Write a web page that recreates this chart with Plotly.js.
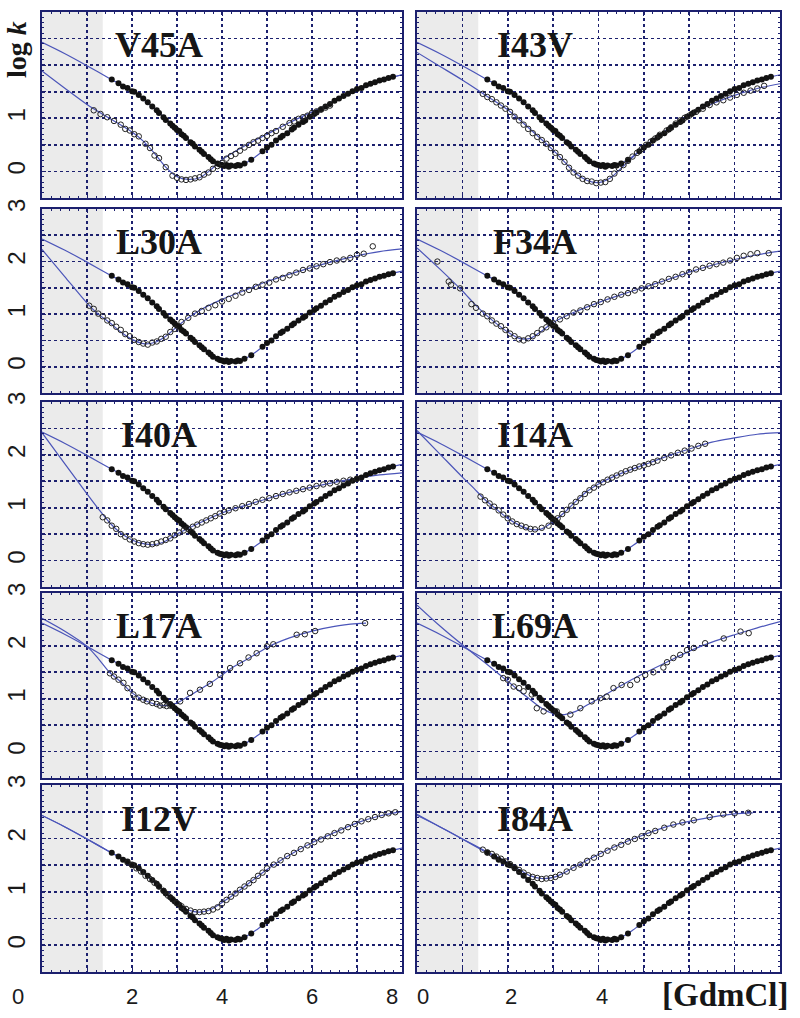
<!DOCTYPE html>
<html>
<head>
<meta charset="utf-8">
<script src="https://cdn.plot.ly/plotly-3.0.1.min.js"></script>
<style>
  html, body { margin: 0; padding: 0; background: #fff; }
  #chart { width: 800px; height: 1018px; }
</style>
</head>
<body>
<div id="chart"></div>
<script>
// wild type: filled points + fit, same in every panel
const wtX = [1.55, 1.7, 1.8, 1.9, 2.0, 2.05, 2.15, 2.25, 2.35, 2.45, 2.55, 2.6, 2.7, 2.75, 2.85, 2.9, 2.95, 3.0, 3.05, 3.1, 3.15, 3.2, 3.3, 3.35, 3.4, 3.5, 3.55, 3.6, 3.7, 3.75, 3.8, 3.9, 3.95, 4.0, 4.05, 4.1, 4.15, 4.2, 4.3, 4.35, 4.4, 4.5, 4.65, 4.9, 5.0, 5.1, 5.2, 5.3, 5.35, 5.45, 5.55, 5.6, 5.7, 5.8, 5.85, 5.95, 6.05, 6.1, 6.2, 6.3, 6.4, 6.5, 6.6, 6.7, 6.8, 6.9, 7.0, 7.1, 7.2, 7.3, 7.4, 7.5, 7.6, 7.7, 7.8];
const wtY = [1.73, 1.66, 1.60, 1.57, 1.51, 1.50, 1.44, 1.37, 1.30, 1.22, 1.15, 1.10, 1.02, 0.97, 0.90, 0.86, 0.82, 0.78, 0.76, 0.70, 0.67, 0.63, 0.55, 0.52, 0.47, 0.41, 0.37, 0.33, 0.27, 0.23, 0.19, 0.15, 0.13, 0.12, 0.10, 0.12, 0.09, 0.11, 0.10, 0.12, 0.11, 0.15, 0.22, 0.38, 0.45, 0.50, 0.58, 0.64, 0.67, 0.72, 0.79, 0.82, 0.88, 0.93, 0.96, 1.03, 1.08, 1.11, 1.16, 1.22, 1.27, 1.33, 1.37, 1.42, 1.46, 1.51, 1.55, 1.57, 1.62, 1.65, 1.68, 1.71, 1.73, 1.76, 1.78];
const wtFitX = [0, 0.5, 1, 1.5, 2, 2.5, 3, 3.25, 3.5, 3.75, 4, 4.25, 4.5, 4.75, 5, 5.5, 6, 6.5, 7, 7.5, 8];
const wtFitY = [2.43, 2.22, 1.99, 1.75, 1.52, 1.18, 0.80, 0.60, 0.41, 0.24, 0.12, 0.10, 0.15, 0.28, 0.44, 0.77, 1.07, 1.34, 1.55, 1.71, 1.82];

// mutants: open circles + fit
const v45aX = [1.15, 1.3, 1.45, 1.6, 1.75, 1.85, 1.95, 2.05, 2.15, 2.3, 2.4, 2.5, 2.6, 2.75, 2.9, 3.0, 3.1, 3.2, 3.3, 3.4, 3.5, 3.6, 3.7, 3.8, 3.9, 4.0, 4.1, 4.2, 4.3, 4.4, 4.5, 4.6, 4.7, 4.8, 4.9, 5.0, 5.1, 5.2, 5.35, 5.5, 5.6, 5.7, 5.8, 5.9, 6.0, 6.1, 6.2, 6.3, 6.4];
const v45aY = [1.15, 1.08, 1.02, 0.95, 0.88, 0.80, 0.77, 0.70, 0.66, 0.52, 0.44, 0.30, 0.25, 0.08, -0.08, -0.12, -0.15, -0.16, -0.15, -0.13, -0.11, -0.06, -0.02, 0.05, 0.10, 0.16, 0.24, 0.29, 0.33, 0.39, 0.45, 0.50, 0.55, 0.58, 0.63, 0.67, 0.72, 0.76, 0.84, 0.91, 0.94, 0.99, 1.02, 1.05, 1.10, 1.13, 1.17, 1.20, 1.24];
const v45aFitX = [0, 0.5, 1, 1.5, 2, 2.25, 2.5, 2.75, 3, 3.25, 3.5, 3.75, 4, 4.5, 5, 5.5, 6, 6.5, 7, 7.5, 8];
const v45aFitY = [1.89, 1.57, 1.26, 1.00, 0.74, 0.57, 0.34, 0.08, -0.10, -0.15, -0.12, 0.03, 0.22, 0.48, 0.70, 0.92, 1.12, 1.32, 1.52, 1.69, 1.82];

const i43vX = [1.45, 1.55, 1.65, 1.75, 1.85, 1.95, 2.05, 2.15, 2.25, 2.35, 2.45, 2.55, 2.65, 2.75, 2.85, 2.95, 3.05, 3.15, 3.25, 3.35, 3.45, 3.55, 3.65, 3.75, 3.85, 3.95, 4.05, 4.15, 4.25, 4.35, 4.45, 4.55, 4.65, 4.75, 4.85, 4.95, 5.05, 5.15, 5.25, 5.35, 5.5, 5.6, 5.7, 5.8, 5.9, 6.0, 6.15, 6.3, 6.45, 6.6, 6.75, 6.9, 7.05, 7.2, 7.35, 7.5, 7.65];
const i43vY = [1.46, 1.40, 1.36, 1.30, 1.24, 1.18, 1.12, 1.03, 0.96, 0.88, 0.80, 0.72, 0.65, 0.59, 0.52, 0.44, 0.35, 0.27, 0.18, 0.07, -0.02, -0.08, -0.14, -0.18, -0.19, -0.22, -0.21, -0.20, -0.14, -0.04, 0.06, 0.12, 0.20, 0.28, 0.35, 0.42, 0.50, 0.56, 0.62, 0.69, 0.77, 0.83, 0.90, 0.96, 1.01, 1.05, 1.12, 1.18, 1.25, 1.30, 1.34, 1.39, 1.44, 1.48, 1.52, 1.56, 1.61];
const i43vFitX = [0, 0.5, 1, 1.5, 2, 2.5, 3, 3.25, 3.5, 3.75, 4, 4.25, 4.5, 5, 5.5, 6, 6.5, 7, 7.5, 8];
const i43vFitY = [2.24, 1.98, 1.72, 1.44, 1.16, 0.79, 0.40, 0.18, -0.04, -0.17, -0.21, -0.13, 0.06, 0.46, 0.78, 1.06, 1.27, 1.43, 1.56, 1.65];

const l30aX = [1.05, 1.15, 1.25, 1.35, 1.45, 1.55, 1.65, 1.75, 1.85, 1.95, 2.05, 2.15, 2.25, 2.35, 2.45, 2.55, 2.65, 2.75, 2.85, 2.95, 3.1, 3.25, 3.4, 3.55, 3.7, 3.85, 4.0, 4.15, 4.3, 4.45, 4.6, 4.75, 4.9, 5.05, 5.2, 5.35, 5.5, 5.65, 5.8, 5.95, 6.1, 6.25, 6.4, 6.55, 6.7, 6.85, 7.0, 7.15, 7.35];
const l30aY = [1.16, 1.10, 1.01, 0.96, 0.88, 0.83, 0.76, 0.70, 0.62, 0.58, 0.51, 0.47, 0.44, 0.42, 0.46, 0.48, 0.53, 0.57, 0.66, 0.72, 0.85, 0.93, 1.01, 1.06, 1.12, 1.17, 1.24, 1.29, 1.35, 1.41, 1.46, 1.52, 1.56, 1.60, 1.66, 1.69, 1.74, 1.79, 1.84, 1.87, 1.91, 1.95, 1.99, 2.02, 2.04, 2.07, 2.13, 2.15, 2.29];
const l30aFitX = [0, 0.5, 1, 1.25, 1.5, 1.75, 2, 2.25, 2.5, 2.75, 3, 3.25, 3.5, 4, 4.5, 5, 5.5, 6, 6.5, 7, 7.5, 8];
const l30aFitY = [2.23, 1.72, 1.21, 1.00, 0.84, 0.66, 0.52, 0.44, 0.46, 0.58, 0.76, 0.93, 1.07, 1.28, 1.45, 1.62, 1.76, 1.89, 2.01, 2.11, 2.19, 2.24];

const f34aX = [0.45, 0.7, 0.75, 0.95, 1.2, 1.3, 1.45, 1.55, 1.65, 1.75, 1.85, 1.95, 2.05, 2.15, 2.25, 2.35, 2.45, 2.55, 2.65, 2.75, 2.85, 3.0, 3.15, 3.3, 3.45, 3.6, 3.75, 3.9, 4.05, 4.2, 4.35, 4.5, 4.65, 4.8, 4.95, 5.1, 5.25, 5.4, 5.55, 5.7, 5.85, 6.0, 6.15, 6.3, 6.45, 6.6, 6.75, 6.9, 7.05, 7.2, 7.35, 7.5, 7.75];
const f34aY = [2.00, 1.62, 1.56, 1.49, 1.19, 1.12, 1.01, 0.96, 0.88, 0.82, 0.77, 0.70, 0.63, 0.58, 0.52, 0.50, 0.54, 0.58, 0.64, 0.71, 0.75, 0.83, 0.90, 0.96, 1.03, 1.07, 1.13, 1.19, 1.23, 1.28, 1.33, 1.37, 1.40, 1.45, 1.49, 1.53, 1.57, 1.62, 1.67, 1.71, 1.76, 1.80, 1.85, 1.88, 1.92, 1.95, 1.98, 2.02, 2.07, 2.11, 2.14, 2.16, 2.16];
const f34aFitX = [0, 0.5, 1, 1.25, 1.5, 1.75, 2, 2.25, 2.5, 2.75, 3, 3.5, 4, 4.5, 5, 5.5, 6, 6.5, 7, 7.5, 8];
const f34aFitY = [2.26, 1.86, 1.44, 1.21, 1.00, 0.82, 0.66, 0.54, 0.54, 0.68, 0.84, 1.05, 1.22, 1.37, 1.51, 1.65, 1.80, 1.93, 2.04, 2.13, 2.20];

const i40aX = [1.35, 1.45, 1.55, 1.65, 1.75, 1.85, 1.95, 2.05, 2.15, 2.25, 2.35, 2.45, 2.55, 2.65, 2.75, 2.85, 2.95, 3.05, 3.15, 3.25, 3.35, 3.45, 3.55, 3.65, 3.75, 3.85, 3.95, 4.05, 4.15, 4.3, 4.45, 4.6, 4.75, 4.9, 5.05, 5.2, 5.35, 5.5, 5.65, 5.8, 5.95, 6.1, 6.25, 6.4, 6.55, 6.7, 6.85, 7.0];
const i40aY = [0.82, 0.76, 0.66, 0.60, 0.50, 0.45, 0.40, 0.36, 0.33, 0.31, 0.30, 0.31, 0.33, 0.36, 0.39, 0.42, 0.48, 0.53, 0.57, 0.60, 0.64, 0.68, 0.72, 0.76, 0.80, 0.84, 0.89, 0.92, 0.95, 0.99, 1.03, 1.07, 1.11, 1.15, 1.18, 1.22, 1.26, 1.29, 1.32, 1.35, 1.38, 1.41, 1.44, 1.46, 1.49, 1.51, 1.53, 1.55];
const i40aFitX = [0, 0.5, 1, 1.25, 1.5, 1.75, 2, 2.25, 2.5, 2.75, 3, 3.5, 4, 4.5, 5, 5.5, 6, 6.5, 7, 7.5, 8];
const i40aFitY = [2.42, 1.84, 1.26, 0.98, 0.72, 0.52, 0.39, 0.32, 0.30, 0.37, 0.50, 0.71, 0.90, 1.04, 1.17, 1.29, 1.39, 1.48, 1.56, 1.62, 1.66];

const i14aX = [1.4, 1.5, 1.6, 1.7, 1.8, 1.9, 2.0, 2.1, 2.2, 2.3, 2.4, 2.5, 2.6, 2.75, 2.9, 3.0, 3.1, 3.2, 3.3, 3.4, 3.5, 3.6, 3.7, 3.8, 3.9, 4.0, 4.1, 4.2, 4.3, 4.4, 4.5, 4.6, 4.7, 4.8, 4.9, 5.0, 5.1, 5.2, 5.3, 5.45, 5.6, 5.75, 5.9, 6.05, 6.2, 6.35];
const i14aY = [1.21, 1.14, 1.08, 1.02, 0.95, 0.87, 0.80, 0.74, 0.69, 0.66, 0.63, 0.60, 0.59, 0.62, 0.66, 0.74, 0.80, 0.88, 0.96, 1.04, 1.11, 1.18, 1.26, 1.33, 1.38, 1.44, 1.48, 1.53, 1.57, 1.61, 1.65, 1.69, 1.72, 1.75, 1.78, 1.80, 1.83, 1.86, 1.89, 1.94, 1.99, 2.04, 2.08, 2.12, 2.17, 2.21];
const i14aFitX = [0, 0.5, 1, 1.25, 1.5, 1.75, 2, 2.25, 2.5, 2.75, 3, 3.25, 3.5, 3.75, 4, 4.5, 5, 5.5, 6, 6.5, 7, 7.5, 8];
const i14aFitY = [2.46, 2.02, 1.58, 1.37, 1.15, 0.97, 0.80, 0.67, 0.59, 0.60, 0.74, 0.91, 1.12, 1.31, 1.45, 1.65, 1.81, 1.97, 2.11, 2.24, 2.32, 2.39, 2.42];

const l17aX = [1.51, 1.6, 1.7, 1.81, 1.9, 2.03, 2.15, 2.25, 2.33, 2.45, 2.55, 2.62, 2.7, 2.77, 2.85, 3.07, 3.29, 3.51, 3.73, 3.96, 4.18, 4.4, 4.59, 4.77, 5.0, 5.14, 5.66, 5.84, 6.07, 7.18];
const l17aY = [1.48, 1.42, 1.36, 1.30, 1.20, 1.08, 1.02, 0.98, 0.95, 0.92, 0.90, 0.87, 0.88, 0.86, 0.87, 0.95, 1.11, 1.17, 1.28, 1.45, 1.58, 1.67, 1.78, 1.86, 1.99, 2.03, 2.21, 2.22, 2.28, 2.43];
const l17aFitX = [0, 0.5, 1, 1.25, 1.5, 1.75, 2, 2.25, 2.5, 2.75, 3, 3.25, 3.5, 3.75, 4, 4.25, 4.5, 4.75, 5, 5.5, 6, 6.5, 7, 7.2];
const l17aFitY = [2.52, 2.28, 1.99, 1.76, 1.50, 1.32, 1.11, 0.98, 0.90, 0.87, 0.92, 1.04, 1.17, 1.30, 1.45, 1.60, 1.72, 1.84, 1.97, 2.15, 2.28, 2.37, 2.42, 2.43];

const l69aX = [1.90, 2.0, 2.13, 2.25, 2.35, 2.53, 2.64, 2.79, 3.08, 3.38, 3.60, 3.85, 4.04, 4.18, 4.33, 4.51, 4.70, 4.85, 5.03, 5.21, 5.43, 5.51, 5.65, 5.80, 5.95, 6.10, 6.35, 6.76, 7.13, 7.31];
const l69aY = [1.39, 1.36, 1.23, 1.20, 1.14, 1.08, 0.82, 0.76, 0.76, 0.70, 0.82, 0.95, 1.01, 1.04, 1.20, 1.26, 1.26, 1.36, 1.45, 1.50, 1.59, 1.69, 1.77, 1.83, 1.92, 1.96, 2.05, 2.14, 2.27, 2.24];
const l69aFitX = [0, 0.5, 1, 1.5, 2, 2.25, 2.5, 2.75, 3, 3.25, 3.5, 3.75, 4, 4.5, 5, 5.5, 6, 6.5, 7, 7.5, 8];
const l69aFitY = [2.77, 2.38, 2.02, 1.68, 1.33, 1.15, 0.98, 0.82, 0.72, 0.70, 0.76, 0.88, 1.00, 1.25, 1.48, 1.69, 1.90, 2.07, 2.21, 2.34, 2.46];

const i12vX = [1.9, 2.0, 2.1, 2.2, 2.3, 2.4, 2.5, 2.6, 2.7, 2.8, 2.9, 3.0, 3.1, 3.2, 3.3, 3.4, 3.5, 3.6, 3.7, 3.8, 3.9, 4.0, 4.1, 4.2, 4.3, 4.4, 4.5, 4.6, 4.7, 4.8, 4.9, 5.0, 5.15, 5.3, 5.45, 5.6, 5.75, 5.9, 6.05, 6.2, 6.35, 6.5, 6.65, 6.8, 6.95, 7.1, 7.25, 7.4, 7.55, 7.7, 7.85];
const i12vY = [1.55, 1.50, 1.44, 1.38, 1.30, 1.24, 1.17, 1.10, 1.02, 0.93, 0.86, 0.79, 0.73, 0.68, 0.65, 0.62, 0.62, 0.63, 0.64, 0.67, 0.71, 0.78, 0.85, 0.91, 0.97, 1.04, 1.10, 1.16, 1.22, 1.30, 1.36, 1.44, 1.51, 1.59, 1.67, 1.73, 1.80, 1.87, 1.93, 1.98, 2.04, 2.10, 2.15, 2.21, 2.27, 2.32, 2.36, 2.40, 2.44, 2.47, 2.49];
const i12vFitX = [0, 0.5, 1, 1.5, 2, 2.5, 2.75, 3, 3.25, 3.5, 3.75, 4, 4.25, 4.5, 5, 5.5, 6, 6.5, 7, 7.5, 8];
const i12vFitY = [2.43, 2.22, 1.99, 1.75, 1.52, 1.18, 0.98, 0.78, 0.66, 0.62, 0.67, 0.80, 0.94, 1.10, 1.42, 1.69, 1.92, 2.11, 2.29, 2.42, 2.50];

const i84aX = [1.45, 1.55, 1.65, 1.75, 1.85, 1.95, 2.05, 2.15, 2.25, 2.35, 2.45, 2.55, 2.65, 2.75, 2.85, 2.95, 3.05, 3.15, 3.3, 3.45, 3.6, 3.75, 3.9, 4.05, 4.2, 4.35, 4.5, 4.65, 4.8, 4.95, 5.1, 5.25, 5.45, 5.65, 5.85, 6.1, 6.45, 6.75, 7.0, 7.3];
const i84aY = [1.79, 1.74, 1.71, 1.66, 1.62, 1.57, 1.52, 1.46, 1.41, 1.36, 1.31, 1.28, 1.26, 1.24, 1.25, 1.26, 1.28, 1.32, 1.38, 1.45, 1.51, 1.58, 1.64, 1.71, 1.77, 1.83, 1.88, 1.94, 1.99, 2.04, 2.10, 2.14, 2.20, 2.26, 2.30, 2.34, 2.40, 2.45, 2.47, 2.48];
const i84aFitX = [0, 0.5, 1, 1.5, 2, 2.25, 2.5, 2.75, 3, 3.25, 3.5, 4, 4.5, 5, 5.5, 6, 6.5, 7, 7.4];
const i84aFitY = [2.45, 2.22, 1.99, 1.77, 1.55, 1.42, 1.30, 1.25, 1.27, 1.36, 1.48, 1.70, 1.90, 2.07, 2.22, 2.32, 2.40, 2.46, 2.48];

const mutantNames = ['V45A', 'I43V', 'L30A', 'F34A', 'I40A', 'I14A', 'L17A', 'L69A', 'I12V', 'I84A'];
const xTickLabels = ['0', '2', '4', '6', '8'];
const yTickVals = [0, 0.5, 1, 1.5, 2, 2.5, 3];
const yTickText = ['0', '', '1', '', '2', '', '3'];

const mutants = [
    [v45aX, v45aY, v45aFitX, v45aFitY],
    [i43vX, i43vY, i43vFitX, i43vFitY],
    [l30aX, l30aY, l30aFitX, l30aFitY],
    [f34aX, f34aY, f34aFitX, f34aFitY],
    [i40aX, i40aY, i40aFitX, i40aFitY],
    [i14aX, i14aY, i14aFitX, i14aFitY],
    [l17aX, l17aY, l17aFitX, l17aFitY],
    [l69aX, l69aY, l69aFitX, l69aFitY],
    [i12vX, i12vY, i12vFitX, i12vFitY],
    [i84aX, i84aY, i84aFitX, i84aFitY]
];

const W = 800, H = 1018;
const NAVY = '#1c206e';
const FIT = '#4b55b9';
const rowTop = [12, 209, 402, 593, 785];
const rowBot = [198, 393, 587, 778, 972];
const colL = [42, 417];
const colR = [402, 780];

const traces = [];
const layout = {
    width: W, height: H,
    margin: { l: 0, r: 0, t: 0, b: 0 },
    paper_bgcolor: '#fff',
    plot_bgcolor: '#fff',
    showlegend: false,
    shapes: [],
    annotations: []
};

mutants.forEach((m, i) => {
    const n = i + 1;
    const row = Math.floor(i / 2), col = i % 2;
    const xa = 'x' + (n === 1 ? '' : n), ya = 'y' + (n === 1 ? '' : n);
    const xkey = 'xaxis' + (n === 1 ? '' : n), ykey = 'yaxis' + (n === 1 ? '' : n);

    traces.push({ x: wtFitX, y: wtFitY, xaxis: xa, yaxis: ya, mode: 'lines', line: { color: FIT, width: 1.2, shape: 'spline', smoothing: 0.8 }, hoverinfo: 'skip' });
    traces.push({ x: m[2], y: m[3], xaxis: xa, yaxis: ya, mode: 'lines', line: { color: FIT, width: 1.2, shape: 'spline', smoothing: 0.8 }, hoverinfo: 'skip' });
    traces.push({ x: wtX, y: wtY, xaxis: xa, yaxis: ya, mode: 'markers', marker: { symbol: 'circle', size: 6, color: '#121212' } });
    traces.push({ x: m[0], y: m[1], xaxis: xa, yaxis: ya, mode: 'markers', marker: { symbol: 'circle-open', size: 5.5, color: '#222', line: { width: 1 } } });

    const common = {
        showline: true, mirror: 'allticks', linecolor: NAVY, linewidth: 1.6,
        showgrid: true, gridcolor: NAVY, gridwidth: 1.6, griddash: '3px,3px',
        zeroline: false, ticks: 'inside', ticklen: 4, tickcolor: NAVY, tickwidth: 1,
        fixedrange: true
    };
    layout[xkey] = Object.assign({}, common, {
        domain: [colL[col] / W, colR[col] / W],
        anchor: ya,
        range: [0, 8],
        tickvals: [0, 1, 2, 3, 4, 5, 6, 7, 8],
        showticklabels: false,
        minor: { ticks: 'inside', ticklen: 2, dtick: 0.2, tickcolor: NAVY, showgrid: false }
    });
    layout[ykey] = Object.assign({}, common, {
        domain: [1 - rowBot[row] / H, 1 - rowTop[row] / H],
        anchor: xa,
        range: [-0.5, 3],
        tickvals: yTickVals,
        ticktext: n === 1 ? ['0', '', '1', '', '', '', ''] : yTickText,
        showticklabels: col === 0,
        tickangle: -90,
        ticklabelstandoff: 6,
        tickfont: { family: 'Liberation Sans, Arial, sans-serif', size: 24, color: '#1a1a1a' },
        minor: { ticks: 'inside', ticklen: 2, dtick: 0.1, tickcolor: NAVY, showgrid: false }
    });

    // denaturant-free shaded zone
    layout.shapes.push({
        type: 'rect', xref: xa, yref: ya + ' domain', x0: 0, x1: 1.35, y0: 0, y1: 1,
        fillcolor: '#ebebeb', line: { width: 0 }, layer: 'below'
    });

    layout.annotations.push({
        text: mutantNames[i], xref: xa, yref: ya, x: 2.6, y: 2.37,
        xanchor: 'center', yanchor: 'middle', showarrow: false,
        font: { family: 'Liberation Serif, Times New Roman, serif', size: 36, weight: 'bold', color: '#161616' }
    });
});

// x tick labels under the bottom row
const tickFont = { family: 'Liberation Sans, Arial, sans-serif', size: 22, color: '#1a1a1a' };
const labelY = 1 - 996 / H;
xTickLabels.forEach(t => {
    const v = +t;
    let shift = 0;
    if (v === 0) shift = -24;
    if (v === 8) shift = -10;
    layout.annotations.push({ text: t, xref: 'x9', yref: 'paper', x: v, y: labelY, xshift: shift, xanchor: 'center', yanchor: 'middle', showarrow: false, font: tickFont });
});
xTickLabels.slice(0, 3).forEach(t => {
    const v = +t;
    layout.annotations.push({ text: t, xref: 'x10', yref: 'paper', x: v, y: labelY, xshift: v === 0 ? 6 : 3, xanchor: 'center', yanchor: 'middle', showarrow: false, font: tickFont });
});

layout.annotations.push({
    text: '[GdmCl]', xref: 'paper', yref: 'paper', x: 725 / W, y: 1 - 995 / H,
    xanchor: 'center', yanchor: 'middle', showarrow: false,
    font: { family: 'Liberation Serif, Times New Roman, serif', size: 33, weight: 'bold', color: '#161616' }
});
layout.annotations.push({
    text: '<b>log <i>k</i></b>', xref: 'paper', yref: 'paper', x: 17 / W, y: 1 - 50 / H, textangle: -90,
    xanchor: 'center', yanchor: 'middle', showarrow: false,
    font: { family: 'Liberation Serif, Times New Roman, serif', size: 28, color: '#161616' }
});

Plotly.newPlot('chart', traces, layout, { staticPlot: true, displayModeBar: false });
</script>
</body>
</html>
